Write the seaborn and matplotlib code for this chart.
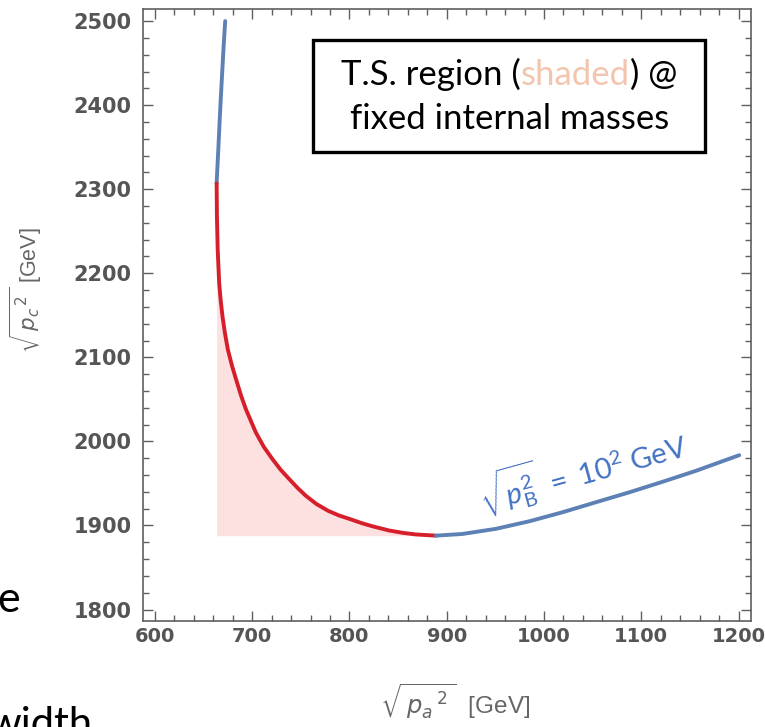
import matplotlib
matplotlib.use("Agg")
import matplotlib.pyplot as plt
import seaborn as sns
from matplotlib.ticker import MultipleLocator
from matplotlib.patches import Rectangle

# sqrt(pa^2) [GeV] vs sqrt(pc^2) [GeV] along the pB^2 = (100 GeV)^2 curve
upper_pa = [672.3, 670.8, 669.5, 668.1, 666.8, 665.2, 663.5]
upper_pc = [2500, 2472, 2445, 2415, 2386, 2347, 2307]

ts_pa = [663.5, 663.8, 664.6, 666.1, 667.6, 669.5, 672.0, 675.0, 679.4, 684.5,
         688.8, 693.6, 703.8, 712.0, 720.9, 729.3, 738.1, 746.5, 755.2, 766.0,
         778.0, 789.0, 799.8, 812.0, 823.7, 840.9, 855.0, 868.3, 888.9]
ts_pc = [2307, 2267.5, 2228, 2188.5, 2168.5, 2148.9, 2129.0, 2109.4, 2089.5, 2069.9,
         2053.8, 2038.2, 2010.6, 1993.5, 1978.9, 1966.3, 1955.2, 1944.9, 1935.3, 1925.6,
         1917.5, 1912.0, 1907.9, 1903.0, 1899.0, 1894.0, 1891.2, 1889.3, 1887.9]

lower_pa = [888.9, 916.2, 950.6, 985.0, 1019.0, 1053.0, 1087.6, 1122.0, 1156.2, 1200.7]
lower_pc = [1887.9, 1889.9, 1896.0, 1905.0, 1915.7, 1927.5, 1939.4, 1952.0, 1965.0, 1983.6]

x_ticks = [600, 700, 800, 900, 1000, 1100, 1200]
y_ticks = [1800, 1900, 2000, 2100, 2200, 2300, 2400, 2500]

RED = "#d61f2a"
BLUE = "#5e81b5"
SHADE = "#fde1e1"
FRAME = "#5f5f5f"
TICKTXT = "#555555"
NOTE_BLUE = "#4472c4"
PEACH = "#f2c6ae"

sns.set_theme(style="ticks")
plt.rcParams["font.family"] = ["Lato", "DejaVu Sans"]
plt.rcParams["mathtext.fontset"] = "custom"
plt.rcParams["mathtext.rm"] = "Lato"
plt.rcParams["mathtext.it"] = "Lato:italic"
plt.rcParams["mathtext.bf"] = "Lato:bold"

W, H = 765, 727
fig = plt.figure(figsize=(W / 100, H / 100), dpi=100)
L, R, T, B = 142.7, 750.7, 9.3, 621.3
ax = fig.add_axes([L / W, 1 - B / H, (R - L) / W, (B - T) / H])

# transverse-singularity region
ax.fill_between(ts_pa, ts_pc, min(ts_pc), color=SHADE, lw=0, zorder=1)

for pa, pc, col in [(upper_pa, upper_pc, BLUE), (ts_pa, ts_pc, RED),
                    (lower_pa, lower_pc, BLUE)]:
    sns.lineplot(x=pa, y=pc, sort=False, estimator=None, color=col,
                 lw=2.8, ax=ax, zorder=3)
for ln in ax.lines:
    ln.set_solid_joinstyle("round")

ax.set_xlim(587.5, 1212.5)
ax.set_ylim(1786, 2514)
ax.set_xticks(x_ticks)
ax.set_xticklabels([str(v) for v in x_ticks])
ax.set_yticks(y_ticks)
ax.set_yticklabels([str(v) for v in y_ticks])
ax.xaxis.set_minor_locator(MultipleLocator(20))
ax.yaxis.set_minor_locator(MultipleLocator(20))
ax.tick_params(which="both", direction="in", top=True, right=True,
               color=FRAME, width=1.0)
ax.tick_params(which="major", length=7)
ax.tick_params(which="minor", length=4)
ax.tick_params(axis="x", pad=4)
ax.tick_params(axis="y", pad=8)
for lab in ax.get_xticklabels() + ax.get_yticklabels():
    lab.set_fontfamily("DejaVu Sans")
    lab.set_fontweight("bold")
    lab.set_color(TICKTXT)
for lab in ax.get_yticklabels():
    lab.set_fontsize(15)
for lab in ax.get_xticklabels():
    lab.set_fontsize(14)

ax.set_xlabel(r"$\sqrt{\,p_a{}^{\,2}\,}$  [GeV]", fontsize=17.5, color="#666666",
              fontfamily="Liberation Sans", math_fontfamily="dejavusans")
ax.set_ylabel(r"$\sqrt{\,p_c{}^{\,2}\,}$ [GeV]", fontsize=15.5, color="#666666",
              fontfamily="Liberation Sans", math_fontfamily="dejavusans")
ax.xaxis.label.set_va("center")
ax.yaxis.label.set_va("center")
ax.xaxis.set_label_coords((455 - L) / (R - L), (B - 702) / (B - T))
ax.yaxis.set_label_coords((26 - L) / (R - L), (B - 290) / (B - T))
for s in ax.spines.values():
    s.set_color(FRAME)
    s.set_linewidth(1.2)

# curve label
ax.text(1039, 1967, r"$\sqrt{p_{\mathrm{B}}^{2}}\ =\ 10^{2}\ \mathrm{GeV}$",
        rotation=15.5, rotation_mode="anchor", ha="center", va="center",
        color=NOTE_BLUE, fontsize=21, zorder=4)

# framed caption
bx0, by0, bx1, by1 = 313.3, 40, 705, 151.7
fig.add_artist(Rectangle((bx0 / W, 1 - by1 / H), (bx1 - bx0) / W, (by1 - by0) / H,
                         transform=fig.transFigure, facecolor="white",
                         edgecolor="black", lw=2.4, zorder=5))

renderer = fig.canvas.get_renderer()
pieces = [("T.S. region (", "black"), ("shaded", PEACH), (") @", "black")]
cx = (bx0 + bx1) / 2
fs = 25
texts = []
for s, c in pieces:
    texts.append(fig.text(0, 1 - 85 / H, s, color=c, fontsize=fs,
                          va="baseline", ha="left", zorder=6))
widths = [t.get_window_extent(renderer).width for t in texts]
x = cx - sum(widths) / 2
for t, w in zip(texts, widths):
    t.set_x(x / W)
    x += w
fig.text(cx / W, 1 - 129 / H, "fixed internal masses", color="black",
         fontsize=fs, va="baseline", ha="center", zorder=6)

# slide text running off the left edge
fig.text(-3 / W, 1 - 612 / H, "e", fontsize=31, color="black", va="baseline")
fig.text(-12 / W, 1 - 737 / H, "width", fontsize=30, color="black", va="baseline")

fig.savefig("out.png", dpi=100)
